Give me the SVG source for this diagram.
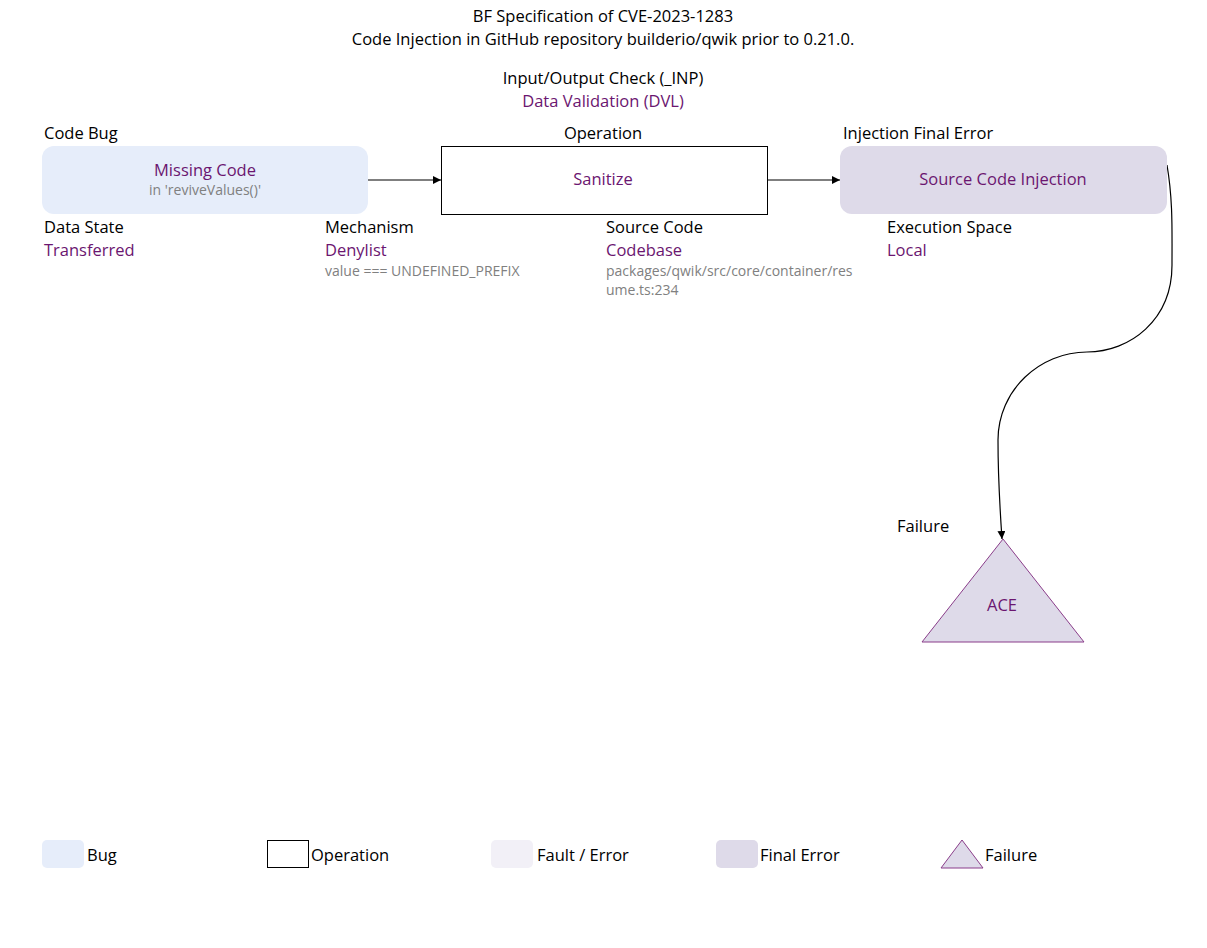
<svg xmlns="http://www.w3.org/2000/svg" width="1207" height="948" viewBox="0 0 1207 948">
<style>
text{font-family:"Open Sans","Liberation Sans",sans-serif;font-size:16.5px;fill:#000}
.p{fill:#6B1670}
.g{fill:#808080;font-size:14px}
.c{text-anchor:middle}
.bug{fill:#E6EDFA}
.fin{fill:#DEDAE9}
.flt{fill:#F2F0F7}
.op{fill:#fff;stroke:#000;stroke-width:1}
.edge{fill:none;stroke:#000;stroke-width:1.2}
</style>
<defs>
<marker id="ah" viewBox="0 0 10 10" refX="10" refY="5" markerWidth="8" markerHeight="8" markerUnits="userSpaceOnUse" orient="auto">
<path d="M0,0 L10,5 L0,10 z" fill="#000"/>
</marker>
</defs>
<rect width="1207" height="948" fill="#fff"/>
<g id="title">
<text class="c" x="603" y="22">BF Specification of CVE-2023-1283</text>
<text class="c" x="603" y="45">Code Injection in GitHub repository builderio/qwik prior to 0.21.0.</text>
<text class="c" x="603" y="84">Input/Output Check (_INP)</text>
<text class="c p" x="603" y="107">Data Validation (DVL)</text>
</g>
<g id="connectors">
<path class="edge" d="M368,180 L441,180" marker-end="url(#ah)"/>
<path class="edge" d="M767,180 L840,180" marker-end="url(#ah)"/>
<path class="edge" d="M1167,165 C1173,200 1172,230 1172,265 C1172,320 1130,352 1087,352 C1040,352 998,390 998,440 C998,480 1000,510 1002,539" marker-end="url(#ah)"/>
</g>
<g id="bug">
<text x="44" y="139">Code Bug</text>
<rect class="bug" x="42" y="146" width="326" height="68" rx="12"/>
<text class="c p" x="205" y="176">Missing Code</text>
<text class="c g" x="205" y="195">in 'reviveValues()'</text>
<text x="44" y="233">Data State</text>
<text class="p" x="44" y="256">Transferred</text>
</g>
<g id="operation">
<text class="c" x="603" y="139">Operation</text>
<rect class="op" x="441.5" y="146.5" width="326" height="68"/>
<text class="c p" x="603" y="185">Sanitize</text>
<text x="325" y="233">Mechanism</text>
<text class="p" x="325" y="256">Denylist</text>
<text class="g" x="325" y="276">value === UNDEFINED_PREFIX</text>
<text x="606" y="233">Source Code</text>
<text class="p" x="606" y="256">Codebase</text>
<text class="g" x="606" y="276">packages/qwik/src/core/container/res</text>
<text class="g" x="606" y="295">ume.ts:234</text>
</g>
<g id="final-error">
<text x="843" y="139">Injection Final Error</text>
<rect class="fin" x="840" y="146" width="327" height="68" rx="12"/>
<text class="c p" x="1003" y="185">Source Code Injection</text>
<text x="887" y="233">Execution Space</text>
<text class="p" x="887" y="256">Local</text>
</g>
<g id="failure">
<text x="897" y="532">Failure</text>
<polygon class="fin" points="1003,539 1084,642 922,642" stroke="#8A3D8A" stroke-width="1"/>
<text class="c p" x="1002" y="611">ACE</text>
</g>
<g id="legend">
<rect class="bug" x="42" y="840" width="42" height="28" rx="5"/>
<text x="87" y="861">Bug</text>
<rect class="op" x="267.5" y="840.5" width="41" height="27"/>
<text x="311" y="861">Operation</text>
<rect class="flt" x="491" y="840" width="42" height="28" rx="5"/>
<text x="537" y="861">Fault / Error</text>
<rect class="fin" x="716" y="840" width="42" height="28" rx="5"/>
<text x="760" y="861">Final Error</text>
<polygon class="fin" points="962,840 983,868 941,868" stroke="#8A3D8A" stroke-width="1"/>
<text x="985" y="861">Failure</text>
</g>
</svg>
